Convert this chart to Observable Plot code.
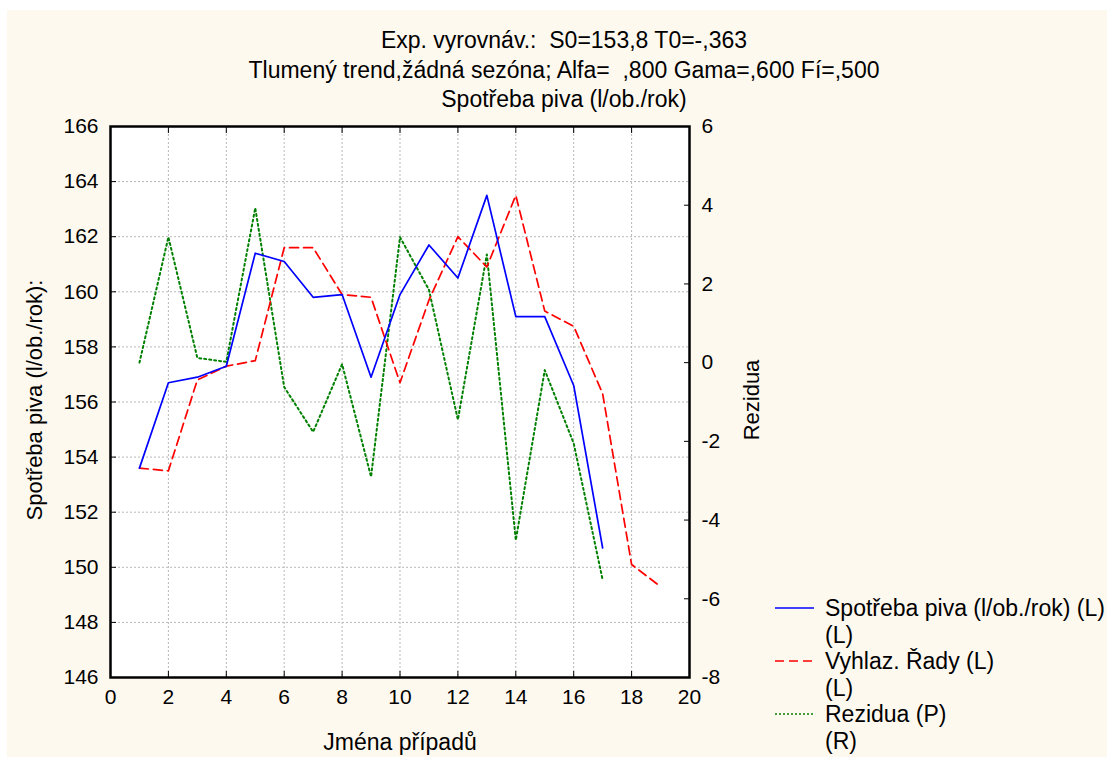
<!DOCTYPE html>
<html>
<head>
<meta charset="utf-8">
<script src="https://cdn.jsdelivr.net/npm/d3@7"></script>
<script src="https://cdn.jsdelivr.net/npm/@observablehq/plot@0.6"></script>
<style>
  html, body { margin: 0; padding: 0; background: #ffffff; }
  #wrap { position: relative; width: 1107px; height: 757px; overflow: hidden; font-family: "Liberation Sans", Arial, sans-serif; color: #000; }
  #bg { position: absolute; left: 7px; top: 10px; right: 0; bottom: 0; background: #FEF9EF; }
  #chart { position: absolute; left: 0; top: 0; }
  .t { position: absolute; white-space: pre; font-size: 23px; line-height: 1; }
  .c { transform: translate(-50%, -50%); }
  .rot { transform: translate(-50%, -50%) rotate(-90deg); font-size: 22px; }
</style>
</head>
<body>
<div id="wrap">
  <div id="bg"></div>
  <div id="chart"></div>
</div>
<script>
// ---- data ----
const cases = [1,2,3,4,5,6,7,8,9,10,11,12,13,14,15,16,17];
const spotreba = [153.6,156.7,156.9,157.3,161.4,161.1,159.8,159.9,156.9,159.9,161.7,160.5,163.5,159.1,159.1,156.6,150.7];
const casesSmooth = [1,2,3,4,5,6,7,8,9,10,11,12,13,14,15,16,17,18,19];
const vyhlaz = [153.6,153.5,156.8,157.3,157.5,161.6,161.6,159.9,159.8,156.7,159.7,162.0,160.9,163.5,159.3,158.75,156.3,150.1,149.3];
const rezidua = [0.0,3.19,0.12,0.02,3.93,-0.62,-1.76,-0.04,-2.9,3.19,1.85,-1.45,2.75,-4.51,-0.19,-2.05,-5.52];
const xTicks = [0,2,4,6,8,10,12,14,16,18,20];
const yTicks = [146,148,150,152,154,156,158,160,162,164,166];
const rTicks = [-8,-6,-4,-2,0,2,4,6];
const titles = ["Exp. vyrovnáv.:  S0=153,8 T0=-,363", "Tlumený trend,žádná sezóna; Alfa=  ,800 Gama=,600 Fí=,500", "Spotřeba piva (l/ob./rok)"];
const xLabel = "Jména případů";
const yLabel = "Spotřeba piva (l/ob./rok):";
const rLabel = "Rezidua";
const legendItems = [
  ["Spotřeba piva (l/ob./rok) (L)", "(L)"],
  ["Vyhlaz. Řady (L)", "(L)"],
  ["Rezidua (P)", "(R)"]
];

// right axis (-8..6) mapped onto left axis (146..166)
const rMin = -8, rMax = 6, lMin = 146, lMax = 166;
const toLeft = r => lMin + (r - rMin) * (lMax - lMin) / (rMax - rMin);
const toRight = l => rMin + (l - lMin) * (rMax - rMin) / (lMax - lMin);

const blueData = cases.map((x, i) => ({x, y: spotreba[i]}));
const redData = casesSmooth.map((x, i) => ({x, y: vyhlaz[i]}));
const greenData = cases.map((x, i) => ({x, y: toLeft(rezidua[i])}));

const font = "Liberation Sans, Arial, sans-serif";

const chart = Plot.plot({
  width: 1107,
  height: 757,
  marginLeft: 110,
  marginRight: 418,
  marginTop: 126,
  marginBottom: 80,
  style: { background: "transparent", fontFamily: font, fontSize: "21px", color: "#000" },
  x: { domain: [0, 20] },
  y: { domain: [146, 166] },
  marks: [
    Plot.frame({ fill: "white", stroke: "none" }),
    Plot.gridX(xTicks, { stroke: "#b8b8b8", strokeOpacity: 1, strokeDasharray: "2,2" }),
    Plot.gridY(yTicks, { stroke: "#b8b8b8", strokeOpacity: 1, strokeDasharray: "2,2" }),
    Plot.line(greenData, { x: "x", y: "y", stroke: "#008000", strokeWidth: 2, strokeDasharray: "2,3" }),
    Plot.line(redData, { x: "x", y: "y", stroke: "#ff0000", strokeWidth: 1.7, strokeDasharray: "9,5" }),
    Plot.line(blueData, { x: "x", y: "y", stroke: "#0000ff", strokeWidth: 1.7 }),
    Plot.axisX(xTicks, { anchor: "bottom", tickSize: -6, tickPadding: 18, label: null, fontSize: 21 }),
    Plot.axisX(xTicks, { anchor: "top", tickSize: -6, tickFormat: () => "", label: null }),
    Plot.axisY(yTicks, { anchor: "left", tickSize: -6, tickPadding: 18, label: null, fontSize: 21 }),
    Plot.axisY(rTicks.map(toLeft), { anchor: "right", tickSize: -6, tickPadding: 18, label: null, fontSize: 21, tickFormat: d => String(Math.round(toRight(d))) }),
    Plot.frame({ stroke: "#000", strokeWidth: 2.5 })
  ]
});
document.getElementById("chart").appendChild(chart);

const wrap = document.getElementById("wrap");
function addText(txt, x, y, cls, extra) {
  const d = document.createElement("div");
  d.className = "t " + cls;
  d.textContent = txt;
  d.style.left = x + "px";
  d.style.top = y + "px";
  if (extra) Object.assign(d.style, extra);
  wrap.appendChild(d);
  return d;
}
// titles
titles.forEach((t, i) => addText(t, 564, 40 + i * 29.5, "c"));
// axis labels
addText(xLabel, 400, 742, "c");
addText(yLabel, 35, 400, "rot");
addText(rLabel, 752, 400, "rot");

// legend
const styles = [
  { stroke: "#0000ff", dash: null },
  { stroke: "#ff0000", dash: "9,5" },
  { stroke: "#008000", dash: "2,2" }
];
legendItems.forEach((item, i) => {
  const yc = 608 + i * 53;
  const s = d3.create("svg").attr("width", 45).attr("height", 6)
    .style("position", "absolute").style("left", "775px").style("top", (yc - 3) + "px");
  s.append("line").attr("x1", 0).attr("x2", 39).attr("y1", 3).attr("y2", 3)
    .attr("stroke", styles[i].stroke).attr("stroke-width", 1.7)
    .attr("stroke-dasharray", styles[i].dash);
  wrap.appendChild(s.node());
  addText(item[0], 825, yc, "", { transform: "translateY(-50%)" });
  addText(item[1], 825, yc + 27, "", { transform: "translateY(-50%)" });
});
</script>
</body>
</html>
